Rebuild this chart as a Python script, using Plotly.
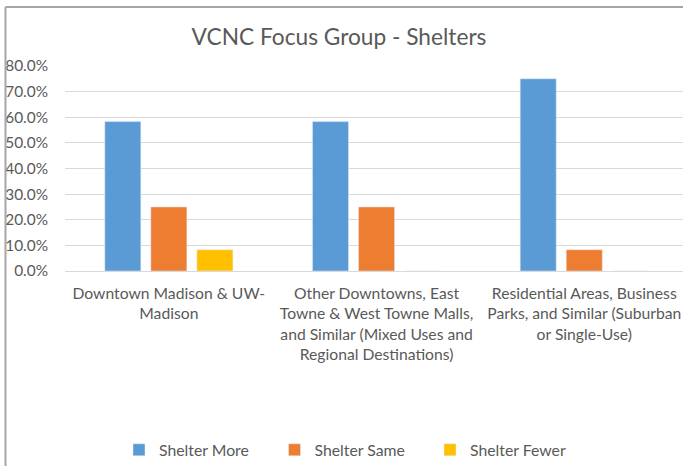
import plotly.graph_objects as go

categories = [
    "Downtown Madison & UW-<br>Madison",
    "Other Downtowns, East<br>Towne & West Towne Malls,<br>and Similar (Mixed Uses and<br>Regional Destinations)",
    "Residential Areas, Business<br>Parks, and Similar (Suburban<br>or Single-Use)",
]
shelter_more = [0.583, 0.583, 0.75]
shelter_same = [0.25, 0.25, 0.083]
shelter_fewer = [0.083, 0.0, 0.0]
y_ticks = [0, 0.1, 0.2, 0.3, 0.4, 0.5, 0.6, 0.7, 0.8]

FONT = "Lato, 'Open Sans', sans-serif"
TXT = "#595959"

fig = go.Figure()
fig.add_trace(go.Bar(name="Shelter More", x=categories, y=shelter_more, marker_color="#5B9BD5"))
fig.add_trace(go.Bar(name="Shelter Same", x=categories, y=shelter_same, marker_color="#ED7D31"))
fig.add_trace(go.Bar(name="Shelter Fewer", x=categories, y=shelter_fewer, marker_color="#FFC000"))

W, H = 683, 466
L, R, T, B = 65, 0, 66, 195
pw = W - L - R
ph = H - T - B
CAT_PX = 207.7

def px_x(p):
    return (p - L) / pw

def px_y(p):
    return (H - B - p) / ph

fig.update_layout(
    width=W, height=H,
    margin=dict(l=L, r=R, t=T, b=B, autoexpand=False),
    paper_bgcolor="white", plot_bgcolor="white",
    font=dict(family=FONT, color=TXT, size=16),
    title=dict(text="VCNC Focus Group - Shelters", x=339 / W, xanchor="center",
               xref="container", y=1 - 37 / H, yanchor="middle", yref="container",
               font=dict(size=22.7, color=TXT, family=FONT)),
    barmode="group", bargap=0.335, bargroupgap=0.217,
    showlegend=True,
    legend=dict(orientation="h", x=px_x(119), xanchor="left", xref="paper",
                y=px_y(450), yanchor="middle", yref="paper",
                font=dict(size=15.8, color=TXT), entrywidth=110.5, entrywidthmode="pixels",
                itemwidth=30, traceorder="normal", bgcolor="rgba(0,0,0,0)"),
    xaxis=dict(range=[-0.5, -0.5 + pw / CAT_PX], showgrid=False, showline=False,
               ticks="", tickfont=dict(size=15.7, color=TXT), automargin=False,
               tickangle=0, ticklabelstandoff=11, fixedrange=True),
    yaxis=dict(range=[0, 0.8], tickvals=y_ticks, tickformat=".1%", showgrid=True,
               gridcolor="#D9D9D9", gridwidth=1, zeroline=True, zerolinecolor="#D9D9D9",
               zerolinewidth=1, showline=False, ticks="", ticklabelstandoff=16,
               tickfont=dict(size=15.4, color=TXT), automargin=False, fixedrange=True),
    shapes=[
        dict(type="line", xref="paper", yref="paper", x0=px_x(5.5), x1=px_x(5.5),
             y0=px_y(7), y1=px_y(475), line=dict(color="#A6A6A6", width=2)),
        dict(type="line", xref="paper", yref="paper", x0=px_x(5.5), x1=px_x(700),
             y0=px_y(7), y1=px_y(7), line=dict(color="#A6A6A6", width=2)),
    ],
)

fig.write_html("out.html", config={"displayModeBar": False},
               post_script="document.body.style.margin='0';document.body.style.overflow='hidden';")
